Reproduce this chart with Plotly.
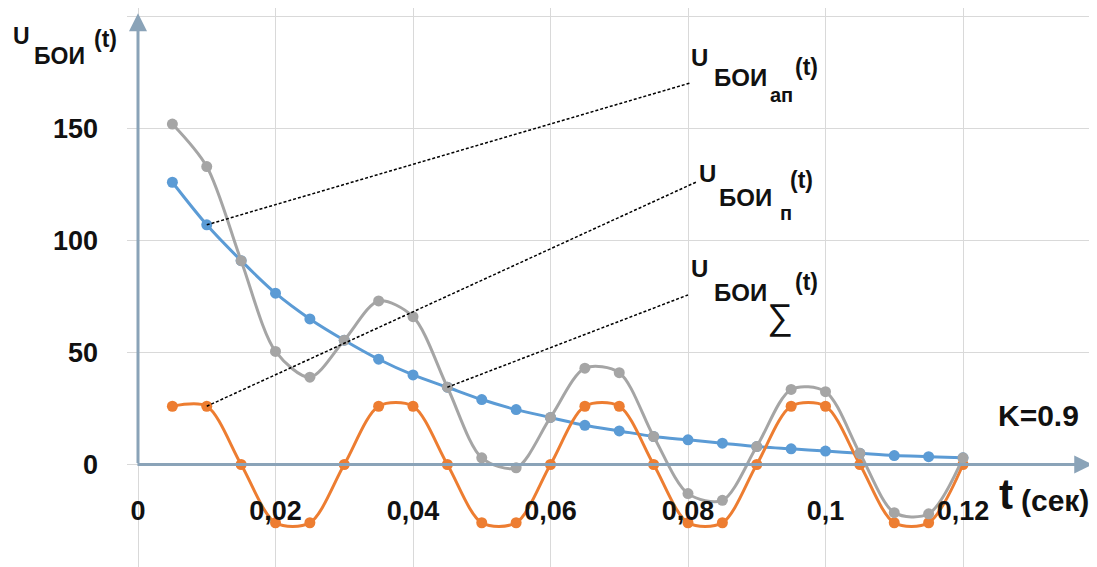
import plotly.graph_objects as go

# ---- data ----
t_vals = [0.005, 0.01, 0.015, 0.02, 0.025, 0.03, 0.035, 0.04, 0.045, 0.05, 0.055, 0.06,
          0.065, 0.07, 0.075, 0.08, 0.085, 0.09, 0.095, 0.1, 0.105, 0.11, 0.115, 0.12]
u_ap = [126, 107, 91, 76.5, 65, 55.5, 47, 40, 34.5, 29, 24.5, 21,
        17.5, 15, 12.5, 11, 9.5, 8, 7, 6, 5, 4, 3.5, 3]
u_p = [26, 26, 0, -26, -26, 0, 26, 26, 0, -26, -26, 0,
       26, 26, 0, -26, -26, 0, 26, 26, 0, -26, -26, 0]
u_sum = [152, 133, 91, 50.5, 39, 55.5, 73, 66, 34.5, 3, -1.5, 21,
         43, 41, 12.5, -13, -16, 8, 33.5, 32.5, 5, -21.5, -22, 3]

x_tickvals = [0, 0.02, 0.04, 0.06, 0.08, 0.1, 0.12]
x_ticktext = ["0", "0,02", "0,04", "0,06", "0,08", "0,1", "0,12"]
y_tickvals = [0, 50, 100, 150, 200]
y_ticktext = ["0", "50", "100", "150", ""]

# page is offset by the 8px default body margin
OFF = 8
W, H = 1097 - OFF, 567 - OFF
X0PIX = 138 - OFF          # figure pixel of t = 0
XSCALE = 6875.0            # pixels per second
Y0PIX = 464.5 - OFF        # figure pixel of U = 0
YSCALE = 2.24              # pixels per unit
L, R, T, B = 127 - OFF, 0, 0, 0
PW, PH = W - L - R, H - T - B

def px(x, y):
    """page pixel -> paper coordinates"""
    fx, fy = x - OFF, y - OFF
    return (fx - L) / PW, (H - B - fy) / PH

FONT = "Liberation Sans"
BLUE, ORANGE, GRAY = "#5B9BD5", "#ED7D31", "#A5A5A5"
AXC = "#8aa3b8"

fig = go.Figure()
for ys, col in [(u_ap, BLUE), (u_p, ORANGE), (u_sum, GRAY)]:
    fig.add_trace(go.Scatter(
        x=t_vals, y=ys, mode="lines+markers",
        line=dict(color=col, width=3, shape="spline", smoothing=0.85),
        marker=dict(color=col, size=11),
        showlegend=False, hoverinfo="skip"))

xr = [-(X0PIX - L) / XSCALE, (W - X0PIX) / XSCALE]
yr = [-(H - Y0PIX) / YSCALE, Y0PIX / YSCALE]

fig.update_layout(
    width=W, height=H,
    margin=dict(l=L, r=R, t=T, b=B),
    paper_bgcolor="white", plot_bgcolor="white",
    xaxis=dict(range=xr, tickvals=x_tickvals, ticktext=x_ticktext,
               showgrid=True, gridcolor="#d9d9d9", gridwidth=1,
               zeroline=False, showline=False, ticks="",
               ticklabelposition="inside", ticklabelstandoff=39,
               tickfont=dict(family=FONT, size=27, color="#111", weight="bold")),
    yaxis=dict(range=yr, tickvals=y_tickvals, ticktext=y_ticktext,
               showgrid=True, gridcolor="#d9d9d9", gridwidth=1,
               zeroline=False, showline=False, ticks="",
               ticklabelstandoff=28,
               tickfont=dict(family=FONT, size=27, color="#111", weight="bold")),
)

# axes with arrows
fig.add_annotation(x=0.1388, y=0, ax=-0.0003, ay=0, xref="x", yref="y", axref="x", ayref="y",
                   text="", showarrow=True, arrowhead=2, arrowsize=1.2, arrowwidth=3,
                   arrowcolor=AXC, standoff=0)
fig.add_annotation(x=0, y=201.5, ax=0, ay=0, xref="x", yref="y", axref="x", ayref="y",
                   text="", showarrow=True, arrowhead=2, arrowsize=1.2, arrowwidth=3,
                   arrowcolor=AXC, standoff=0)

# leader lines
leaders = [((0.01, 107), (0.0803, 170.3)),
           ((0.01, 26), (0.0812, 126.1)),
           ((0.045, 34.5), (0.080, 75.7))]
for (xa, ya), (xb, yb) in leaders:
    fig.add_shape(type="line", x0=xa, y0=ya, x1=xb, y1=yb, xref="x", yref="y",
                  line=dict(color="black", width=1.5, dash="3px,2px"))

def txt(s, x, y, size, bold=True):
    xp, yp = px(x, y)
    fig.add_annotation(x=xp, y=yp, xref="paper", yref="paper", text=s, showarrow=False,
                       xanchor="center", yanchor="middle",
                       font=dict(family=FONT, size=size, color="#111",
                                 weight="bold" if bold else "normal"))

# y axis title
txt("U", 21, 36, 23)
txt("БОИ", 59, 56, 23)
txt("(t)", 105, 39, 23)

# label 1
txt("U", 699, 57, 24)
txt("БОИ", 740, 77, 24)
txt("ап", 781, 95, 20)
txt("(t)", 806, 67, 23)
# label 2
txt("U", 707, 174, 24)
txt("БОИ", 745, 197, 24)
txt("п", 786, 213, 20)
txt("(t)", 801, 180, 23)
# label 3
txt("U", 699, 268, 24)
txt("БОИ", 740, 292, 24)
txt("∑", 780, 316, 36, bold=False)
txt("(t)", 806, 282, 23)

txt("K=0.9", 1038, 415, 30)
txt("t", 1006, 494, 42)
txt("(сек)", 1055, 500, 30)

fig.write_html("out.html")
